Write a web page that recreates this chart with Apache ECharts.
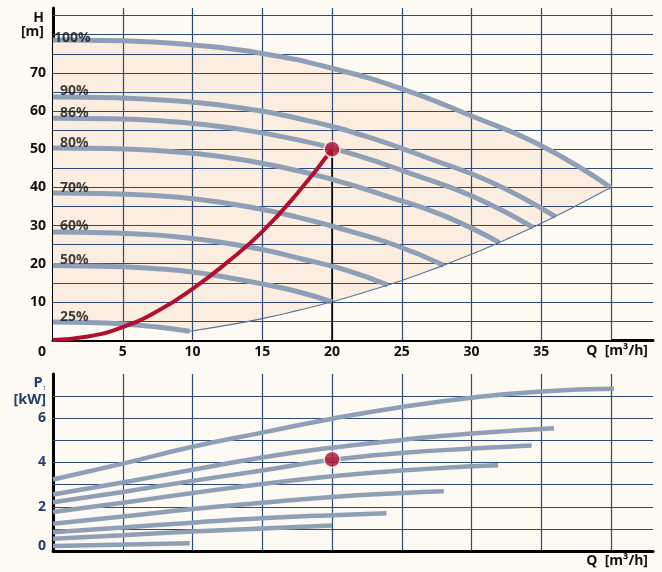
<!DOCTYPE html>
<html>
<head>
<meta charset="utf-8">
<script src="https://cdn.jsdelivr.net/npm/echarts@6.0.0/dist/echarts.min.js"></script>
<style>
  html, body { margin: 0; padding: 0; background: #fdf9f3; }
  #chart { width: 662px; height: 572px; }
</style>
</head>
<body>
<div id="chart"></div>
<script>
// ---------- data ----------
const Q_GRID = [5, 10, 15, 20, 25, 30, 35, 40];
const H_GRID = [5, 10, 15, 20, 25, 30, 35, 40, 45, 50, 55, 60, 65, 70, 75, 80, 85];
const P_GRID = [1, 2, 3, 4, 5, 6, 7];
const Q_TICK_LABELS = [0, 5, 10, 15, 20, 25, 30, 35];
const H_TICK_LABELS = [10, 20, 30, 40, 50, 60, 70];
const P_TICK_LABELS = [0, 2, 4, 6];
const SPEED_LABELS = ['100%', '90%', '86%', '80%', '70%', '60%', '50%', '25%'];

// Head curves H [m] vs Q [m3/h]
const H100 = [[0,78.6],[5,78.4],[10,77.3],[15,75.1],[20,71.2],[25,65.8],[30,58.7],[35,50.9],[40,39.9]];
const H90  = [[0,63.7],[4.5,63.5],[9,62.6],[13.5,60.8],[18,57.7],[22.5,53.3],[27,47.5],[31.5,41.2],[36,32.3]];
const H86  = [[0,58.1],[4.3,58.0],[8.6,57.2],[12.9,55.5],[17.2,52.7],[21.5,48.7],[25.8,43.4],[30.1,37.6],[34.4,29.5]];
const H80  = [[0,50.3],[4,50.2],[8,49.5],[12,48.1],[16,45.6],[20,42.1],[24,37.6],[28,32.6],[32,25.5]];
const H70  = [[0,38.5],[3.5,38.4],[7,37.9],[10.5,36.8],[14,34.9],[17.5,32.2],[21,28.8],[24.5,24.9],[28,19.6]];
const H60  = [[0,28.3],[3,28.2],[6,27.8],[9,27.0],[12,25.6],[15,23.7],[18,21.1],[21,18.3],[24,14.4]];
const H50  = [[0,19.5],[2.5,19.4],[5,19.2],[7.5,18.7],[10,17.8],[12.5,16.4],[15,14.7],[17.5,12.7],[20,10.0]];
const H25  = [[0,4.7],[2.5,4.6],[5,4.2],[7.5,3.4],[9.8,2.3]];
const MIN_LINE = [[9.8,2.3],[12.5,3.9],[15,5.6],[17.5,7.7],[20,10],[22.5,12.7],[25,15.6],[27.5,18.9],[30,22.5],[32.5,26.4],[35,30.6],[37.5,35.2],[40,40]];
const SYSTEM_CURVE = [[0,0],[2.5,0.9],[5,3.4],[7.5,7.6],[10,13.4],[12.5,20.4],[15,28.4],[17.5,38.4],[20,50]];
const DUTY_POINT_H = [20, 50];

// Power curves P1 [kW] vs Q [m3/h]
const P100 = [[0,3.23],[5,3.95],[10,4.71],[15,5.35],[20,5.98],[25,6.51],[30,6.93],[35,7.21],[40.2,7.33]];
const P90  = [[0,2.55],[5,3.1],[10,3.67],[15,4.23],[20,4.67],[25,5.02],[30,5.31],[35.9,5.55]];
const P86  = [[0,2.2],[5,2.67],[10,3.17],[15,3.64],[20,4.12],[25,4.43],[30,4.63],[34.3,4.77]];
const P80  = [[0,1.76],[5,2.18],[10,2.62],[15,3.03],[20,3.38],[25,3.64],[30,3.83],[31.9,3.88]];
const P70  = [[0,1.23],[5,1.56],[10,1.9],[15,2.18],[20,2.44],[25,2.62],[28,2.7]];
const P60  = [[0,0.85],[5,1.06],[10,1.28],[15,1.48],[20,1.62],[23.9,1.71]];
const P50  = [[0,0.55],[5,0.71],[10,0.88],[15,1.02],[20,1.15]];
const P25  = [[0,0.23],[9.8,0.35]];
const DUTY_POINT_P = [20, 4.14];

// ---------- styles ----------
const FONT = "'Open Sans', 'Noto Sans', sans-serif";
const BG = '#fdf9f3';
const FILL = '#fbeee0';
const GRID_COLOR = '#2f4a78';
const CURVE = '#8f9fb5';
const RED = '#b0102f';
const NAVY = '#243d6b';

const headCurves = [H100, H90, H86, H80, H70, H60, H50, H25];
const powerCurves = [P100, P90, P86, P80, P70, P60, P50, P25];

function gridLines(qs, vs) {
  return {
    silent: true, symbol: 'none', z: 3, animation: false,
    label: { show: false },
    lineStyle: { color: GRID_COLOR, width: 1.2, type: 'solid', opacity: 1 },
    emphasis: { disabled: true },
    data: qs.map(v => ({ xAxis: v })).concat(vs.map(v => ({ yAxis: v })))
  };
}

const series = [];

// operating-area fill
series.push({
  type: 'line', xAxisIndex: 0, yAxisIndex: 0, data: H100, smooth: true,
  symbol: 'none', lineStyle: { width: 0 }, areaStyle: { color: FILL, opacity: 1 },
  z: 1, silent: true,
  markLine: gridLines(Q_GRID, H_GRID)
});
series.push({
  type: 'line', xAxisIndex: 0, yAxisIndex: 0, data: H25.concat(MIN_LINE.slice(1)), smooth: 0.3,
  symbol: 'none', lineStyle: { width: 0 }, areaStyle: { color: BG, opacity: 1 },
  z: 2, silent: true
});

// duty vertical line
series.push({
  type: 'line', xAxisIndex: 0, yAxisIndex: 0,
  data: [[DUTY_POINT_H[0], 0], DUTY_POINT_H],
  symbol: 'none', lineStyle: { color: '#000', width: 1.6 }, z: 4, silent: true
});

headCurves.forEach(d => series.push({
  type: 'line', xAxisIndex: 0, yAxisIndex: 0, data: d, smooth: true,
  symbol: 'none', lineStyle: { color: CURVE, width: 5, cap: 'butt' }, z: 5, silent: true
}));

series.push({
  type: 'line', xAxisIndex: 0, yAxisIndex: 0, data: MIN_LINE, smooth: true,
  symbol: 'none', lineStyle: { color: '#5b7299', width: 1.1 }, z: 5, silent: true
});

series.push({
  type: 'line', xAxisIndex: 0, yAxisIndex: 0, data: SYSTEM_CURVE, smooth: true,
  symbol: 'none', lineStyle: { color: RED, width: 4 }, z: 6, silent: true
});

series.push({
  type: 'scatter', xAxisIndex: 0, yAxisIndex: 0, data: [DUTY_POINT_H],
  symbol: 'circle', symbolSize: 16,
  itemStyle: { color: RED, borderColor: '#fff', borderWidth: 1.5 }, z: 7, silent: true
});

const labelBase = { fontFamily: FONT, fontWeight: 'bold', fontSize: 14 };

// speed labels
series.push({
  type: 'scatter', xAxisIndex: 0, yAxisIndex: 0, symbolSize: 0, z: 8, silent: true,
  data: SPEED_LABELS.map((s, i) => ({
    name: s, value: headCurves[i][0],
    label: { offset: i === 0 ? [1, -2.5] : [7, -5.5] }
  })),
  label: Object.assign({}, labelBase, {
    show: true, position: 'right', distance: 0, formatter: p => p.name, color: '#111'
  })
});

// power chart
series.push({
  type: 'line', xAxisIndex: 1, yAxisIndex: 1, data: [], symbol: 'none', silent: true,
  markLine: gridLines(Q_GRID, P_GRID), z: 1
});
powerCurves.forEach(d => series.push({
  type: 'line', xAxisIndex: 1, yAxisIndex: 1, data: d, smooth: true,
  symbol: 'none', lineStyle: { color: CURVE, width: 4.5, cap: 'butt' }, z: 5, silent: true
}));
series.push({
  type: 'scatter', xAxisIndex: 1, yAxisIndex: 1, data: [DUTY_POINT_P],
  symbol: 'circle', symbolSize: 16,
  itemStyle: { color: RED, borderColor: '#fff', borderWidth: 1.5 }, z: 7, silent: true
});

const option = {
  animation: false,
  backgroundColor: BG,
  grid: [
    { left: 53, top: 8, width: 600, height: 332 },
    { left: 53, top: 374, width: 600, height: 177 }
  ],
  xAxis: [
    {
      type: 'value', gridIndex: 0, min: 0, max: 43, interval: 5,
      axisLine: { onZero: false, lineStyle: { color: '#000', width: 3 } },
      axisTick: { show: false }, splitLine: { show: false },
      axisLabel: Object.assign({}, labelBase, {
        color: '#111', margin: 5, showMaxLabel: false,
        formatter: v => v === 0 ? '{z|0}' : (Q_TICK_LABELS.includes(v) ? String(v) : ''),
        rich: { z: Object.assign({}, labelBase, { color: '#111', padding: [0, 22, 0, 0] }) }
      }),
      name: 'Q  [m³/h]', nameLocation: 'end', nameGap: -5,
      nameTextStyle: Object.assign({}, labelBase, { color: '#111', align: 'right', verticalAlign: 'top', padding: [4, 0, 0, 0] })
    },
    {
      type: 'value', gridIndex: 1, min: 0, max: 43, interval: 5,
      axisLine: { onZero: false, lineStyle: { color: '#000', width: 3 } },
      axisTick: { show: false }, splitLine: { show: false },
      axisLabel: { show: false },
      name: 'Q  [m³/h]', nameLocation: 'end', nameGap: -5,
      nameTextStyle: Object.assign({}, labelBase, { color: '#111', align: 'right', verticalAlign: 'top', padding: [3, 0, 0, 0] })
    }
  ],
  yAxis: [
    {
      type: 'value', gridIndex: 0, min: 0, max: 87, interval: 10,
      axisLine: { show: true, onZero: false, lineStyle: { color: '#000', width: 3 } },
      axisTick: { show: false }, splitLine: { show: false },
      axisLabel: Object.assign({}, labelBase, {
        color: '#111', margin: 7,
        formatter: v => H_TICK_LABELS.includes(v) ? String(v) : ''
      }),
      name: 'H\n[m]', nameLocation: 'end', nameGap: -3,
      nameTextStyle: Object.assign({}, labelBase, { color: '#111', align: 'right', verticalAlign: 'top', lineHeight: 14, padding: [0, 9, 0, 0] })
    },
    {
      type: 'value', gridIndex: 1, min: 0, max: 8, interval: 1,
      axisLine: { show: true, onZero: false, lineStyle: { color: '#000', width: 3 } },
      axisTick: { show: false }, splitLine: { show: false },
      axisLabel: Object.assign({}, labelBase, {
        color: NAVY, margin: 7,
        formatter: v => v === 0 ? '{b|0}' : (P_TICK_LABELS.includes(v) ? String(v) : ''),
        rich: { b: Object.assign({}, labelBase, { color: NAVY, padding: [0, 0, 10, 0] }) }
      }),
      name: '{p|P}{s|1}\n{p|[kW]}', nameLocation: 'end', nameGap: 0,
      nameTextStyle: {
        align: 'right', verticalAlign: 'top', padding: [0, 7, 0, 0],
        rich: {
          p: Object.assign({}, labelBase, { color: NAVY, fontSize: 14.5, lineHeight: 17 }),
          s: { fontFamily: FONT, fontSize: 6, color: NAVY, lineHeight: 17, verticalAlign: 'bottom' }
        }
      }
    }
  ],
  series: series
};

const chart = echarts.init(document.getElementById('chart'), null, { renderer: 'canvas' });
chart.setOption(option);
</script>
</body>
</html>
